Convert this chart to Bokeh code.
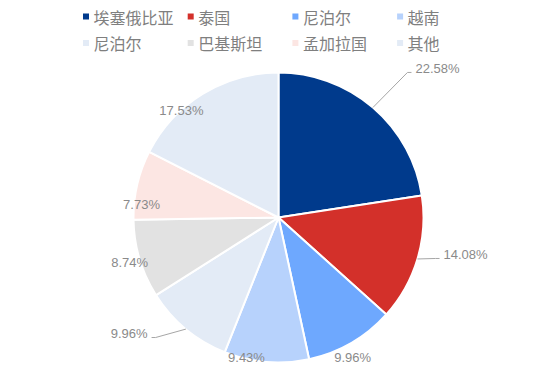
import math
from bokeh.plotting import figure
from bokeh.models import Range1d, ColumnDataSource
from bokeh.core.properties import value
from bokeh.embed import file_html
from bokeh.resources import INLINE

# ---- data ----
categories = ["埃塞俄比亚", "泰国", "尼泊尔", "越南", "尼泊尔", "巴基斯坦", "孟加拉国", "其他"]
shares = [22.58, 14.08, 9.96, 9.43, 9.96, 8.74, 7.73, 17.53]
colors = ["#003A8C", "#D3302A", "#6EA8FE", "#B7D2FC", "#E3EBF6", "#E2E2E2", "#FCE6E3", "#E3EBF6"]

# ---- layout (page px) ----
W, H = 554, 370
MARGIN = 0
CXP, CYP, R = 278, 217, 145          # pie centre / radius in page px
# per label: (radius, angle shift in degrees, has leader line)
LABEL_LAYOUT = [(194.1, 1.0, True), (162.3, -2.0, True), (158.4, 2.2, False),
                (143.6, 8.1, False), (171.8, 6.0, True), (155.6, -0.2, False),
                (137.6, -7.6, False), (144.4, -10.7, False)]
LABEL_COLOR = "#8A8A8A"
LEGEND_COLOR = "#7F7F7F"


def dx(X):
    return X - MARGIN


def dy(Y):
    return H + MARGIN - Y


def polar(r, deg):
    t = math.radians(deg)
    return CXP + r * math.sin(t), CYP - r * math.cos(t)


p = figure(width=W, height=H, x_range=Range1d(0, W), y_range=Range1d(0, H),
           output_backend="svg", toolbar_location=None, min_border=0,
           x_axis_location=None, y_axis_location=None)
p.grid.visible = False
p.outline_line_color = None
p.background_fill_color = "white"
p.border_fill_color = "white"

total = sum(shares)
starts, ends, mids = [], [], []
cum = 0.0
for s in shares:
    a0 = cum / total
    cum += s
    a1 = cum / total
    starts.append(math.pi / 2 - a0 * 2 * math.pi)
    ends.append(math.pi / 2 - a1 * 2 * math.pi)
    mids.append((a0 + a1) / 2 * 360.0)

src = ColumnDataSource(dict(x=[dx(CXP)] * len(shares), y=[dy(CYP)] * len(shares),
                            start=starts, end=ends, color=colors))
p.wedge(x="x", y="y", radius=R, start_angle="start", end_angle="end",
        direction="clock", fill_color="color", line_color="white", line_width=2,
        source=src)

# ---- data labels ----
lx, ly, lt, la = [], [], [], []
for i, s in enumerate(shares):
    r, shift, leader = LABEL_LAYOUT[i]
    th = mids[i] + shift
    text = f"{s:.2f}%"
    if leader:
        ex, ey = polar(r, th)
        side = 1 if math.sin(math.radians(th)) > 0 else -1
        sx, sy = polar(R, mids[i])
        p.line([dx(sx), dx(ex), dx(ex + side * 4)], [dy(sy), dy(ey), dy(ey)],
               line_color="#A6A6A6", line_width=1)
        lx.append(dx(ex + side * 8))
        ly.append(dy(ey - 4))
        la.append("left" if side > 0 else "right")
    else:
        X, Y = polar(r, th)
        lx.append(dx(X))
        ly.append(dy(Y))
        la.append("center")
    lt.append(text)

p.text(x=lx, y=ly, text=lt, text_align=la, text_baseline="middle",
       text_font=value("Liberation Sans"), text_font_size="13px",
       text_color=LABEL_COLOR)

# ---- legend (manual grid) ----
qx, qy, tx, ty = [], [], [], []
for i, c in enumerate(categories):
    col, row = i % 4, i // 4
    yy = 16 + row * 26.5
    qx.append(dx(85.5 + col * 104.7))
    qy.append(dy(yy))
    tx.append(dx(93 + col * 104.7))
    ty.append(dy(yy))
p.rect(x=qx, y=qy, width=6, height=6, fill_color=colors, line_color=None)
p.text(x=tx, y=ty, text=categories, text_align="left", text_baseline="middle",
       text_font=value("Noto Sans CJK SC"), text_font_size="16px",
       text_color=LEGEND_COLOR)

open("out.html", "w").write(file_html(p, INLINE))
